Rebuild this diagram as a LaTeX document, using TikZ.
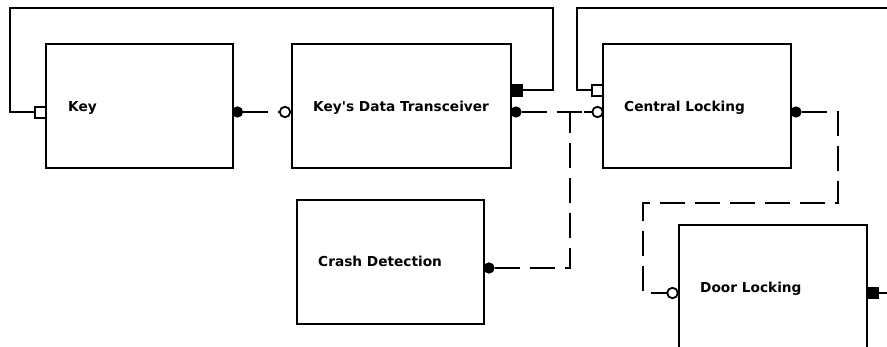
\documentclass[tikz,border=0pt]{standalone}
\usepackage{fontspec}
\newfontfamily\lblfont{DejaVu Sans}
\usetikzlibrary{backgrounds}
\begin{document}
\begin{tikzpicture}[x=1pt,y=-1pt,
  box/.style={draw,line width=2pt,minimum width=#1,minimum height=124pt,inner sep=0pt},
  lbl/.style={anchor=base west,font=\lblfont\fontsize{13.7}{16}\selectfont\bfseries,inner sep=0pt},
  fport/.style={circle,fill=black,draw=black,line width=1.2pt,minimum size=10pt,inner sep=0pt},
  oport/.style={circle,fill=white,draw=black,line width=1.8pt,minimum size=10.5pt,inner sep=0pt},
  wsq/.style={rectangle,fill=white,draw=black,line width=1.6pt,minimum size=11pt,inner sep=0pt},
  bsq/.style={rectangle,fill=black,draw=black,line width=1.2pt,minimum size=11.5pt,inner sep=0pt},
  wire/.style={line width=2pt},
  dwire/.style={line width=2pt,dash pattern=on 25pt off 10pt}]
\useasboundingbox (0,0) rectangle (887,347);
% boxes
\node[box=187pt] (key) at (139.5,106) {};
\node[box=219pt] (tr) at (401.5,106) {};
\node[box=188pt] (cl) at (697,106) {};
\node[box=187pt] (cr) at (390.5,262) {};
\node[box=188pt] (dl) at (773,287) {};
% labels
\node[lbl] (keyL) at (68,112) {Key};
\node[lbl] (trL) at (313,112) {Key's Data Transceiver};
\node[lbl] (clL) at (624,112) {Central Locking};
\node[lbl] (crL) at (318,267) {Crash Detection};
\node[lbl] (dlL) at (700,293) {Door Locking};
% ports
\node[wsq] (keyIn) at (40.5,112.5) {};
\node[fport] (keyOut) at (237.5,112) {};
\node[oport] (trIn) at (285,112) {};
\node[fport] (trOut) at (516,112) {};
\node[bsq] (trSq) at (516.5,90.5) {};
\node[wsq] (clSq) at (597.5,90.5) {};
\node[oport] (clIn) at (597.5,112) {};
\node[fport] (clOut) at (796,112) {};
\node[fport] (crOut) at (489,268) {};
\node[oport] (dlIn) at (672.5,293) {};
\node[bsq] (dlSq) at (872.5,293) {};
% corners
\coordinate (c1) at (553,8);
\coordinate (c2) at (10,8);
\coordinate (c3) at (577,8);
\coordinate (c4) at (887,8);
\coordinate (c5) at (887,293);
\coordinate (j1) at (570,112);
\coordinate (d1) at (838,203);
\coordinate (d2) at (643,203);
\begin{scope}[on background layer]
\draw[wire] (trSq.east) -| (c1) -- (c2) |- (keyIn.west);
\draw[wire] (clSq.west) -| (c3) -- (c4);
\draw[wire] (dlSq.east) -- (c5);
\draw[dwire] (keyOut.center) ++(5,0) -- (trIn.center);
\draw[dwire] (trOut.east) -- (clIn.center);
\draw[dwire] (crOut.east) -| (j1) -- (clIn.center);
\draw[dwire] (clOut.east) -| (d1) -- (d2) |- (dlIn.center);
\end{scope}
\end{tikzpicture}
\end{document}
